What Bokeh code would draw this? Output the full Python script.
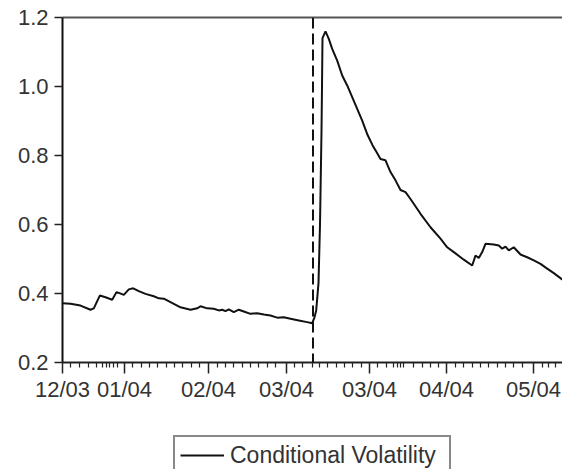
from bokeh.plotting import figure
from bokeh.layouts import column
from bokeh.models import (Span, Legend, LegendItem, LinearAxis, FixedTicker,
                          Range1d, PrintfTickFormatter)
from bokeh.embed import file_html
from bokeh.resources import INLINE

# observation index (trading-day axis) and conditional volatility
obs = [0, 8, 18, 28, 31.3, 37.3, 43, 49.7, 54, 57, 61.3, 66.3, 70.7, 76.3, 83,
       91.3, 96.3, 101.3, 108, 118, 128, 134.7, 138, 144.7, 151.3, 156.3, 159.7,
       163, 166.3, 171.3, 176.3, 181.3, 188, 194.7, 201.3, 208, 214.7, 221.3,
       228, 236.3, 244.7, 249.7, 252, 253.7, 256, 257.5, 259, 259.5, 260, 263,
       266.3, 269.7, 274.7, 279.7, 284.7, 289.7, 294.7, 299.7, 305, 310, 314,
       318, 323, 328, 333, 338, 343, 348, 358, 368, 378, 384.7, 391.3, 401.3,
       409.7, 413, 416.3, 419.7, 423, 431.3, 436.3, 439.7, 443, 446.3, 451.3,
       458, 464.7, 471.3, 478, 484.7, 491.3, 500]
volatility = [0.372, 0.370, 0.365, 0.353, 0.357, 0.394, 0.389, 0.382, 0.404,
              0.401, 0.396, 0.412, 0.415, 0.407, 0.399, 0.392, 0.386, 0.385,
              0.375, 0.360, 0.353, 0.357, 0.363, 0.357, 0.356, 0.351, 0.353,
              0.349, 0.354, 0.346, 0.353, 0.348, 0.341, 0.343, 0.339, 0.336,
              0.330, 0.331, 0.327, 0.322, 0.317, 0.314, 0.331, 0.351, 0.43,
              0.60, 0.87, 1.00, 1.14, 1.16, 1.138, 1.109, 1.075, 1.032, 1.003,
              0.969, 0.935, 0.901, 0.86, 0.83, 0.81, 0.79, 0.786, 0.752, 0.728,
              0.700, 0.694, 0.674, 0.631, 0.592, 0.559, 0.534, 0.520, 0.498,
              0.481, 0.510, 0.503, 0.520, 0.544, 0.542, 0.539, 0.530, 0.536,
              0.525, 0.534, 0.513, 0.505, 0.496, 0.486, 0.472, 0.459, 0.440]
assert len(obs) == len(volatility)

break_obs = 250.5
tick_obs = [0, 62, 146, 224, 307, 384, 471]
tick_labels = ["12/03", "01/04", "02/04", "03/04", "03/04", "04/04", "05/04"]
minor_obs = [8, 17, 26, 34, 40, 44, 47, 51, 55, 70, 79, 87, 95, 104, 112, 120,
             129, 137, 155, 163, 171, 180, 188, 196, 205, 213, 232, 240, 250,
             257, 265, 274, 282, 290, 299, 315, 324, 331, 335, 338, 341, 351,
             360, 368, 376, 393, 401, 410, 418, 426, 435, 443, 451, 460, 480,
             486, 493]
y_ticks = [0.2, 0.4, 0.6, 0.8, 1.0, 1.2]
series_name = "Conditional Volatility"

FONT = "Liberation Sans"
TXT = "#333333"
LINE = "#111111"

p = figure(width=562, height=434, output_backend="svg", toolbar_location=None,
           x_range=Range1d(0, 500), y_range=Range1d(0.2, 1.2),
           min_border_left=62, min_border_right=0, min_border_top=17,
           min_border_bottom=72)
p.outline_line_color = None
p.grid.visible = False

r = p.line(obs, volatility, line_color=LINE, line_width=2)

p.add_layout(Span(location=break_obs, dimension="height", line_color=LINE,
                  line_width=2, line_dash="11 5"))

# x axis
xa = p.xaxis[0]
xa.ticker = FixedTicker(ticks=tick_obs, minor_ticks=minor_obs)
xa.major_label_overrides = {t: l for t, l in zip(tick_obs, tick_labels)}
xa.major_tick_out = 11
xa.major_tick_in = 0
xa.minor_tick_out = 5
xa.minor_tick_in = 0
xa.axis_line_width = 2
xa.axis_line_color = "#222222"
xa.major_tick_line_color = "#222222"
xa.minor_tick_line_color = "#222222"
xa.major_tick_line_width = 1.5
xa.minor_tick_line_width = 1.2
xa.major_label_text_font = FONT
xa.major_label_text_font_size = "22px"
xa.major_label_text_color = TXT
xa.major_label_standoff = 3

# y axis
ya = p.yaxis[0]
ya.ticker = FixedTicker(ticks=y_ticks)
ya.formatter = PrintfTickFormatter(format="%.1f")
ya.major_tick_out = 8
ya.major_tick_in = 0
ya.minor_tick_line_color = None
ya.axis_line_width = 2
ya.axis_line_color = LINE
ya.major_tick_line_color = "#222222"
ya.major_tick_line_width = 1.5
ya.major_label_text_font = FONT
ya.major_label_text_font_size = "22px"
ya.major_label_text_color = TXT
ya.major_label_standoff = 6

# top frame line
top = LinearAxis(ticker=FixedTicker(ticks=[]), axis_line_width=2,
                 axis_line_color="#555555", major_tick_line_color=None,
                 minor_tick_line_color=None, major_label_text_font_size="0px")
p.add_layout(top, "above")

# legend strip below the chart (series kept out of its view range)
q = figure(width=562, height=35, output_backend="svg", toolbar_location=None,
           x_range=Range1d(0, 500), y_range=Range1d(5, 6),
           min_border=0, min_border_left=0, min_border_right=0,
           min_border_top=0, min_border_bottom=0)
q.axis.visible = False
q.grid.visible = False
q.outline_line_color = None
rq = q.line(obs, volatility, line_color=LINE, line_width=2)

legend = Legend(items=[LegendItem(label=series_name, renderers=[rq])],
                location=(111, -6.5), orientation="horizontal",
                label_text_font=FONT, label_text_font_size="23px",
                label_text_color=TXT, glyph_width=44, label_standoff=6,
                label_width=214, padding=5, margin=0, border_line_color=LINE,
                border_line_width=2, background_fill_color="white",
                background_fill_alpha=1.0)
q.add_layout(legend, "center")

layout = column(p, q, spacing=0)
open("out.html", "w").write(file_html(layout, INLINE))
